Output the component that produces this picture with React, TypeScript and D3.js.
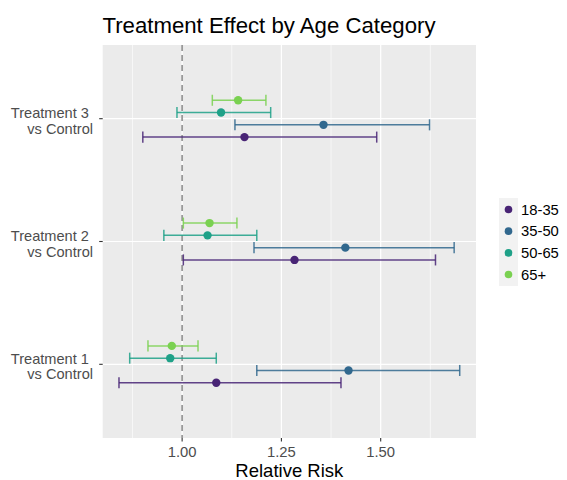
import React from "react";
import * as d3 from "d3";

const title = "Treatment Effect by Age Category";
const comparisons = ["Treatment 1", "Treatment 2", "Treatment 3"];
const ageGroups = ["18-35", "35-50", "50-65", "65+"];
// values per comparison, in the order of ageGroups
const estT1 = [1.086, 1.419, 0.970, 0.974];
const lowT1 = [0.841, 1.188, 0.868, 0.914];
const highT1 = [1.400, 1.699, 1.086, 1.040];
const estT2 = [1.283, 1.411, 1.064, 1.069];
const lowT2 = [1.003, 1.181, 0.954, 1.003];
const highT2 = [1.638, 1.685, 1.188, 1.138];
const estT3 = [1.157, 1.356, 1.098, 1.141];
const lowT3 = [0.901, 1.133, 0.987, 1.076];
const highT3 = [1.490, 1.623, 1.223, 1.211];
const xTicks = [1.0, 1.25, 1.5];
const xMinor = [0.875, 1.125, 1.375, 1.625];
const xDomain = [0.8, 1.74];

const ests = [estT1, estT2, estT3];
const lows = [lowT1, lowT2, lowT3];
const highs = [highT1, highT2, highT3];

const W = 567, H = 480;
const panel = { left: 102.7, right: 476, top: 45, bottom: 438 };
const font = "'Liberation Sans', Arial, Helvetica, sans-serif";

export default function App() {
  const x = d3.scaleLinear().domain(xDomain).range([panel.left, panel.right]);
  // discrete y with ggplot expansion 0.6
  const y = d3.scaleLinear().domain([0.4, 3.6]).range([panel.bottom, panel.top]);
  const colorPos = [0.1, 0.333, 0.567, 0.8];
  const color = d3.scaleOrdinal<string, string>().domain(ageGroups).range(colorPos.map((p) => d3.interpolateViridis(p)));
  const dodge = 0.1;
  const capHalf = 0.045;

  const rows: any[] = [];
  comparisons.forEach((c, ci) => {
    ageGroups.forEach((g, gi) => {
      rows.push({ c, g, ci, gi, est: ests[ci][gi], lo: lows[ci][gi], hi: highs[ci][gi] });
    });
  });

  const legendY = d3.scalePoint().domain(ageGroups).range([209.5, 274.5]);

  return (
    <svg width={W} height={H} style={{ position: "absolute", left: 0, top: 0, background: "white" }} fontFamily={font}>
      <text x={102.5} y={32.5} fontSize={22.2} fill="#000">{title}</text>
      <rect x={panel.left} y={panel.top} width={panel.right - panel.left} height={panel.bottom - panel.top} fill="#EBEBEB" />
      {xMinor.map((v) => (
        <line key={"mi" + v} x1={x(v)} x2={x(v)} y1={panel.top} y2={panel.bottom} stroke="#fff" strokeWidth={0.6} />
      ))}
      {xTicks.map((v) => (
        <line key={"ma" + v} x1={x(v)} x2={x(v)} y1={panel.top} y2={panel.bottom} stroke="#fff" strokeWidth={1.2} />
      ))}
      {comparisons.map((c, i) => (
        <line key={"hy" + c} x1={panel.left} x2={panel.right} y1={y(i + 1)} y2={y(i + 1)} stroke="#fff" strokeWidth={1.2} />
      ))}
      <line x1={x(1)} x2={x(1)} y1={panel.top} y2={panel.bottom} stroke="#999" strokeWidth={1.8} strokeDasharray="6,4" />
      {rows.map((r) => {
        const yc = r.ci + 1 + (r.gi - 1.5) * dodge;
        const col = color(r.g);
        return (
          <g key={r.c + r.g}>
            <g stroke={col} strokeWidth={1.5} strokeOpacity={0.85}>
              <line x1={x(r.lo)} x2={x(r.hi)} y1={y(yc)} y2={y(yc)} />
              <line x1={x(r.lo)} x2={x(r.lo)} y1={y(yc - capHalf)} y2={y(yc + capHalf)} />
              <line x1={x(r.hi)} x2={x(r.hi)} y1={y(yc - capHalf)} y2={y(yc + capHalf)} />
            </g>
            <circle cx={x(r.est)} cy={y(yc)} r={4.2} fill={col} />
          </g>
        );
      })}
      {/* y axis */}
      {comparisons.map((c, i) => (
        <g key={"yl" + c}>
          <line x1={panel.left - 3.5} x2={panel.left} y1={y(i + 1)} y2={y(i + 1)} stroke="#333" strokeWidth={1.1} />
          <text textAnchor="end" fontSize={14.6} fill="#4D4D4D" style={{ whiteSpace: "pre" }}>
            <tspan x={93} y={y(i + 1) - 0.5}>{c + " "}</tspan>
            <tspan x={93} y={y(i + 1) + 15}>vs Control</tspan>
          </text>
        </g>
      ))}
      {/* x axis */}
      {xTicks.map((v) => (
        <g key={"xt" + v}>
          <line x1={x(v)} x2={x(v)} y1={panel.bottom} y2={panel.bottom + 3.5} stroke="#333" strokeWidth={1.1} />
          <text x={x(v)} y={457.3} textAnchor="middle" fontSize={14.8} fill="#4D4D4D">{d3.format(".2f")(v)}</text>
        </g>
      ))}
      <text x={(panel.left + panel.right) / 2} y={477} textAnchor="middle" fontSize={18.5} fill="#000">Relative Risk</text>
      {/* legend */}
      <rect x={499} y={198} width={19} height={88} fill="#F2F2F2" />
      {ageGroups.map((g) => (
        <g key={"lg" + g}>
          <circle cx={508.5} cy={legendY(g)} r={3.8} fill={color(g)} />
          <text x={521} y={(legendY(g) as number) + 5.3} fontSize={14.8} fill="#000">{g}</text>
        </g>
      ))}
    </svg>
  );
}
